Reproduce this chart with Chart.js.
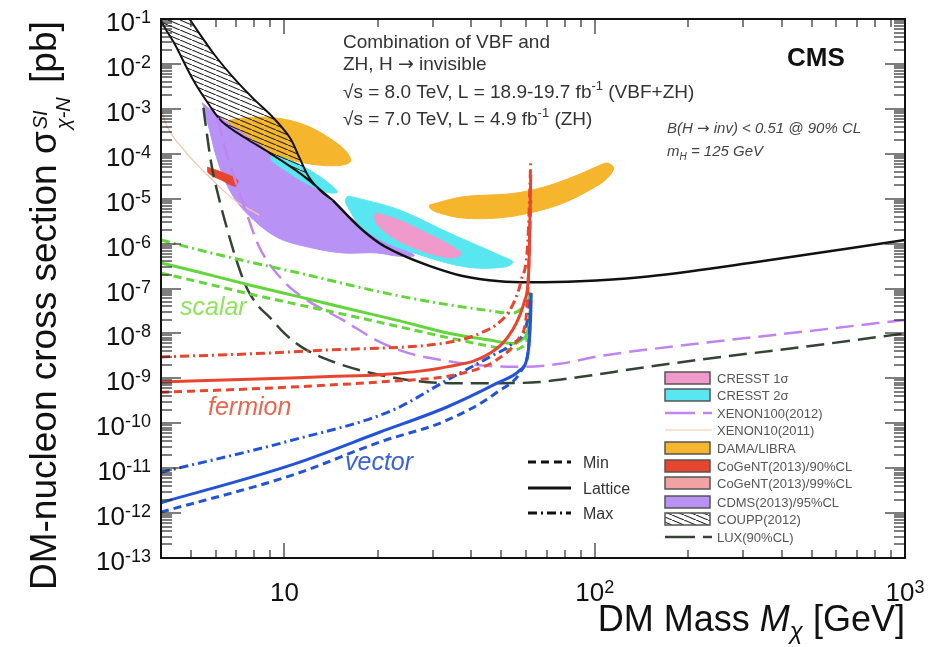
<!DOCTYPE html>
<html>
<head>
<meta charset="utf-8">
<script src="https://cdn.jsdelivr.net/npm/chart.js@4.4.1/dist/chart.umd.min.js"></script>
<style>
  html, body { margin: 0; padding: 0; background: #fff; }
</style>
</head>
<body>
<canvas id="myChart" width="939" height="647"></canvas>
<script>
// all points are [DM mass in GeV, cross section in pb]
var scalarMax = [[4, 1.2e-6], [5.32, 7.2e-7], [7.71, 3.9e-7], [11.2, 2.2e-7], [16.2, 1.2e-7], [23.5, 6.8e-8], [34.1, 4.3e-8], [45.9, 3.2e-8], [54, 2.8e-8], [58, 3.5e-8], [60.9, 5.2e-8], [62.2, 8.3e-8]];
var scalarLat = [[4, 3.7e-7], [5.32, 2.3e-7], [7.71, 1.2e-7], [11.2, 6.5e-8], [16.2, 3.5e-8], [23.5, 1.9e-8], [34.1, 1.0e-8], [45.9, 7.1e-9], [54, 6.0e-9], [58, 7.1e-9], [60.9, 1.2e-8], [62.2, 4.3e-8]];
var scalarMin = [[4, 2.2e-7], [5.32, 1.4e-7], [7.71, 7.6e-8], [11.2, 4.3e-8], [16.2, 2.5e-8], [23.5, 1.4e-8], [34.1, 7.9e-9], [45.9, 5.2e-9], [54, 4.3e-9], [58, 4.9e-9], [60.9, 8.7e-9], [62.2, 3.3e-8]];

var fermionMax = [[4, 3.0e-9], [7.71, 3.5e-9], [14, 4.3e-9], [23.5, 4.9e-9], [29.3, 5.5e-9], [36.7, 7.1e-9], [42.6, 1.0e-8], [49.4, 1.8e-8], [54.4, 4.3e-8], [58, 1.55e-7], [60.9, 1.2e-6], [62.2, 7.2e-5]];
var fermionLat = [[4, 8.3e-10], [7.71, 9.5e-10], [14, 1.1e-9], [20.25, 1.2e-9], [33.4, 1.8e-9], [45.9, 3.6e-9], [54.4, 1.2e-8], [59.5, 5.5e-8], [61.3, 2.6e-7], [62.2, 3.4e-5]];
var fermionMin = [[4, 4.9e-10], [7.71, 5.8e-10], [14, 7.1e-10], [20.25, 8.3e-10], [37.5, 1.3e-9], [48.4, 2.6e-9], [57.3, 8.3e-9], [60.4, 3.3e-8], [62.2, 9.3e-6]];

var vectorMax = [[4, 8.1e-12], [10.6, 4.2e-11], [22.3, 1.95e-10], [33.4, 9.1e-10], [45.9, 3.0e-9], [54.4, 6.0e-9], [60.4, 1.7e-8], [62.2, 9.1e-8]];
var vectorLat = [[4, 1.7e-12], [10.6, 1.2e-11], [20.25, 6.3e-11], [33.4, 2.3e-10], [48.4, 7.8e-10], [57.3, 1.5e-9], [60.9, 3.6e-9], [62.2, 2.8e-8], [62.4, 7.9e-8]];
var vectorMin = [[4, 1.05e-12], [10.6, 7.0e-12], [20.25, 3.8e-11], [33.4, 1.17e-10], [48.4, 4.9e-10], [58.6, 1.7e-9], [61.3, 5.5e-9], [62.2, 5.5e-8]];

var coupUpper = [[4.94, 1.0e-1], [5.95, 1.6e-2], [6.95, 4.4e-3], [8.0, 1.6e-3], [9.15, 6.6e-4], [10.4, 2.3e-4], [11.2, 7.9e-5], [12.0, 3.0e-5], [13.2, 1.4e-5], [14.3, 9.3e-6]];
var coupLower = [[4.0, 1.0e-1], [4.45, 2.6e-2], [5.08, 4.4e-3], [5.73, 1.2e-3], [6.31, 5.1e-4], [7.43, 2.3e-4], [8.95, 1.05e-4], [11.2, 3.7e-5], [14.3, 9.3e-6]];
var coupLimit = [[14.3, 9.3e-6], [17.45, 2.3e-6], [20.25, 1.02e-6], [23.5, 5.9e-7], [29.3, 3.2e-7], [37.5, 1.9e-7], [49.4, 1.45e-7], [61.7, 1.38e-7], [89.3, 1.45e-7], [140, 1.78e-7], [316, 3.7e-7], [1000, 1.2e-6]];

var lux = [[5.48, 1.05e-3], [5.6, 3.4e-4], [5.82, 5.6e-5], [6.17, 9.3e-6], [6.55, 2.0e-6], [7.0, 4.3e-7], [7.54, 1.07e-7], [8.18, 4.3e-8], [8.95, 2.3e-8], [10, 1.0e-8], [11.4, 4.9e-9], [14.7, 2.2e-9], [19.2, 1.3e-9], [25.3, 9.1e-10], [34.1, 7.8e-10], [49.4, 7.8e-10], [66.5, 8.3e-10], [89.3, 1.07e-9], [140, 1.7e-9], [218, 2.6e-9], [458, 4.9e-9], [1000, 1.0e-8]];
var xenon100 = [[6.08, 6.3e-4], [6.4, 1.55e-4], [6.9, 2.9e-5], [7.54, 4.8e-6], [8.3, 8.3e-7], [9.85, 1.55e-7], [11.4, 6.5e-8], [15.4, 2.0e-8], [20.25, 6.5e-9], [25.3, 3.6e-9], [31.6, 2.6e-9], [42.6, 1.95e-9], [57.3, 1.8e-9], [77.1, 2.1e-9], [103, 3.1e-9], [218, 6.0e-9], [458, 1.07e-8], [1000, 2.0e-8]];
var xenon10 = [[4.03, 8.5e-4], [4.16, 4.4e-4], [4.83, 1.05e-4], [5.86, 2.6e-5], [6.9, 9.3e-6], [8.3, 4.3e-6]];

// closed contours
var damaLow = [[6.26, 5.1e-4], [7.43, 6.3e-4], [9.29, 6.3e-4], [11.6, 4.4e-4], [14.0, 2.2e-4], [15.85, 1.1e-4], [16.3, 6.6e-5], [14.5, 5.4e-5], [11.6, 6.2e-5], [9.64, 8.9e-5], [8.0, 1.66e-4], [6.9, 3.0e-4]];
var damaHigh = [[29.3, 7.2e-6], [37.5, 1.1e-5], [54.4, 1.3e-5], [70.1, 1.9e-5], [89.3, 3.5e-5], [103, 5.4e-5], [110, 6.2e-5], [115, 4.8e-5], [110, 2.9e-5], [100, 1.8e-5], [78.9, 7.9e-6], [61.7, 4.8e-6], [48.4, 3.7e-6], [37.5, 3.7e-6], [31.6, 4.8e-6], [29.6, 5.9e-6]];
var cresst2Low = [[9.08, 9.3e-5], [10.4, 7.2e-5], [12.0, 4.4e-5], [13.8, 2.3e-5], [14.8, 1.4e-5], [13.6, 1.4e-5], [11.6, 2.3e-5], [10.0, 4.4e-5], [9.08, 7.2e-5]];
var cresst2High = [[16.0, 1.15e-5], [17.45, 1.0e-5], [23.5, 5.6e-6], [34.1, 1.7e-6], [49.4, 5.5e-7], [54.4, 3.9e-7], [51.3, 3.0e-7], [38.6, 3.0e-7], [26.7, 5.9e-7], [20.7, 1.15e-6], [17.45, 2.6e-6], [16.2, 5.6e-6], [15.7, 8.9e-6]];
var cresst1 = [[19.8, 4.8e-6], [23.5, 3.3e-6], [28.3, 1.8e-6], [34.1, 9.3e-7], [37.1, 5.9e-7], [34.1, 4.8e-7], [27.2, 7.2e-7], [22.6, 1.3e-6], [19.95, 2.6e-6], [19.5, 3.9e-6]];
var cdms = [[5.44, 1.35e-3], [5.95, 8.1e-4], [7.16, 3.2e-4], [8.95, 1.1e-4], [11.2, 3.7e-5], [14.0, 9.8e-6], [17.45, 2.7e-6], [21.8, 1.15e-6], [26.2, 5.5e-7], [23.5, 5.2e-7], [19.8, 6.2e-7], [15.4, 6.2e-7], [12.0, 8.3e-7], [9.42, 1.4e-6], [7.54, 4.8e-6], [6.65, 1.55e-5], [6.08, 7.2e-5], [5.73, 3.4e-4], [5.52, 9.3e-4]];
var cogent90 = [[5.65, 5.0e-5], [6.26, 3.9e-5], [7.06, 2.6e-5], [6.95, 1.9e-5], [6.26, 2.6e-5], [5.69, 3.7e-5]];

var xTickValues = [10, 100, 1000];
var xTickExp = ["", "2", "3"];
var yTickValues = [1e-13, 1e-12, 1e-11, 1e-10, 1e-9, 1e-8, 1e-7, 1e-6, 1e-5, 1e-4, 1e-3, 1e-2, 1e-1];
var yTickExp = ["-13", "-12", "-11", "-10", "-9", "-8", "-7", "-6", "-5", "-4", "-3", "-2", "-1"];

var legendLabels = ["CRESST 1\u03c3", "CRESST 2\u03c3", "XENON100(2012)", "XENON10(2011)", "DAMA/LIBRA", "CoGeNT(2013)/90%CL", "CoGeNT(2013)/99%CL", "CDMS(2013)/95%CL", "COUPP(2012)", "LUX(90%CL)"];

var FONT = '"Liberation Sans", Arial, Helvetica, sans-serif';
var GREEN = "#62d63a", RED = "#e8452f", BLUE = "#2353d8";
var DAMA = "#f5b52c", CYAN = "#58e7f1", PINK = "#f09acb", LILAC = "#b892f4";
var MIN_DASH = [8, 5], MAX_DASH = [9, 4, 2, 4];

function makeHatch() {
  var c = document.createElement("canvas");
  c.width = 12; c.height = 5;
  var g = c.getContext("2d");
  g.strokeStyle = "#222";
  g.lineWidth = 1.1;
  g.beginPath();
  g.moveTo(-1, -5 / 12);
  g.lineTo(13, 5 + 5 / 12);
  g.stroke();
  return g.createPattern(c, "repeat");
}
var hatch = makeHatch();

function pts(a) {
  return a.map(function (p) { return { x: p[0], y: p[1] }; });
}
function curve(a, color, width, dash) {
  return {
    data: pts(a), showLine: true, fill: false,
    borderColor: color, borderWidth: width, borderDash: dash || [],
    pointRadius: 0, cubicInterpolationMode: "monotone"
  };
}
function blob(a, color, border, bw) {
  return {
    data: pts(a.concat([a[0]])), showLine: true, fill: "shape",
    backgroundColor: color, borderColor: border || color, borderWidth: bw || 1,
    pointRadius: 0, tension: 0.35
  };
}

// first dataset is drawn on top
var datasets = [
  curve(fermionMax, RED, 3, MAX_DASH),
  curve(fermionLat, RED, 3),
  curve(fermionMin, RED, 3, MIN_DASH),
  curve(vectorMax, BLUE, 3, MAX_DASH),
  curve(vectorLat, BLUE, 3),
  curve(vectorMin, BLUE, 3, MIN_DASH),
  curve(scalarMax, GREEN, 3, MAX_DASH),
  curve(scalarLat, GREEN, 3),
  curve(scalarMin, GREEN, 3, MIN_DASH),
  curve(coupLimit, "#111", 2.5),
  curve(lux, "#334433", 2.5, [18, 8]),
  curve(xenon100, "#c084f2", 2.5, [18, 8]),
  curve(xenon10, "#f3c4aa", 1.2),
  blob(coupUpper.concat(coupLower.slice().reverse()), hatch, "#111", 2),
  blob(cogent90, RED),
  blob(cresst1, PINK),
  blob(cresst2Low, CYAN),
  blob(cresst2High, CYAN),
  blob(cdms, LILAC),
  blob(damaLow, DAMA),
  blob(damaHigh, DAMA)
];

function rich(ctx, x, y, parts, color) {
  ctx.fillStyle = color;
  ctx.textAlign = "left";
  ctx.textBaseline = "alphabetic";
  parts.forEach(function (p) {
    ctx.font = p[1];
    ctx.fillText(p[0], x, y + (p[2] || 0));
    x += ctx.measureText(p[0]).width;
  });
  return x;
}
function richWidth(ctx, parts) {
  var w = 0;
  parts.forEach(function (p) { ctx.font = p[1]; w += ctx.measureText(p[0]).width; });
  return w;
}

function drawFrame(chart) {
  var ctx = chart.ctx, a = chart.chartArea;
  var xs = chart.scales.x, ys = chart.scales.y;
  ctx.save();
  ctx.fillStyle = "#2a2a2a";
  // x ticks, bottom and top, pointing inwards
  [1, 10, 100].forEach(function (d) {
    for (var k = 1; k <= 9; k++) {
      var v = k * d;
      if (v < 4 || v > 1000) continue;
      var px = Math.round(xs.getPixelForValue(v));
      var len = k === 1 ? 15 : 8;
      ctx.fillRect(px - 0.6, a.bottom - len, 1.2, len);
      ctx.fillRect(px - 0.6, a.top, 1.2, len);
    }
  });
  // y ticks, left and right
  yTickValues.forEach(function (dec) {
    for (var m = 1; m <= 9; m++) {
      var val = dec * m;
      if (val > 0.1000001) continue;
      var yp = Math.round(ys.getPixelForValue(val));
      var ln = m === 1 ? 20 : 11;
      ctx.fillRect(a.left, yp - 0.6, ln, 1.2);
      ctx.fillRect(a.right - ln, yp - 0.6, ln, 1.2);
    }
  });
  ctx.setLineDash([]);
  ctx.lineWidth = 2;
  ctx.strokeStyle = "#111";
  ctx.strokeRect(a.left, a.top, a.right - a.left, a.bottom - a.top);
  ctx.restore();
}

var decor = {
  id: "decor",
  afterDraw: function (chart) {
    var ctx = chart.ctx, a = chart.chartArea;
    var xs = chart.scales.x, ys = chart.scales.y;
    drawFrame(chart);
    ctx.save();

    // y tick labels
    yTickValues.forEach(function (v, i) {
      var py = ys.getPixelForValue(v);
      ctx.font = "18px " + FONT;
      var ew = ctx.measureText(yTickExp[i]).width;
      ctx.font = "26px " + FONT;
      var bw = ctx.measureText("10").width;
      rich(ctx, 151 - ew - bw, py + 12, [["10", "26px " + FONT], [yTickExp[i], "18px " + FONT, -8]], "#111");
    });
    // x tick labels
    xTickValues.forEach(function (v, i) {
      var px = xs.getPixelForValue(v);
      var parts = [["10", "26px " + FONT], [xTickExp[i], "18px " + FONT, -8]];
      var w = richWidth(ctx, parts);
      rich(ctx, px - w / 2, 601, parts, "#111");
    });

    // axis titles
    var xt = [["DM Mass ", "36px " + FONT], ["M", "italic 36px " + FONT], ["\u03c7", "italic 24px " + FONT, 8], [" [GeV]", "36px " + FONT]];
    rich(ctx, a.right - richWidth(ctx, xt), 631, xt, "#111");

    ctx.save();
    ctx.translate(56, 590);
    ctx.rotate(-Math.PI / 2);
    var yx = rich(ctx, 0, 0, [["DM-nucleon cross section \u03c3", "37px " + FONT]], "#111");
    ctx.font = "italic 20px " + FONT;
    var w1 = ctx.measureText("SI").width, w2 = ctx.measureText("\u03c7-N").width;
    ctx.fillText("SI", yx + 2, -9);
    ctx.fillText("\u03c7-N", yx + 2, 14);
    rich(ctx, yx + Math.max(w1, w2) + 6, 0, [[" [pb]", "37px " + FONT]], "#111");
    ctx.restore();

    // header texts
    var f19 = "19px " + FONT, f12 = "13px " + FONT;
    var arrow = '19px "DejaVu Sans", sans-serif';
    rich(ctx, 343, 48, [["Combination of VBF and", f19]], "#333");
    rich(ctx, 343, 70, [["ZH, H ", f19], ["\u2192", arrow], [" invisible", f19]], "#333");
    rich(ctx, 343, 98, [["\u221as = 8.0 TeV, L = 18.9-19.7 fb", f19], ["-1", f12, -8], [" (VBF+ZH)", f19]], "#333");
    rich(ctx, 343, 125, [["\u221as = 7.0 TeV, L = 4.9 fb", f19], ["-1", f12, -8], [" (ZH)", f19]], "#333");
    rich(ctx, 787, 66, [["CMS", "bold 26px " + FONT]], "#111");
    var fi = "italic 15px " + FONT;
    rich(ctx, 667, 133, [["B(H ", fi], ["\u2192", '15px "DejaVu Sans", sans-serif'], [" inv) < 0.51 @ 90% CL", fi]], "#444");
    rich(ctx, 667, 156, [["m", fi], ["H", "italic 10px " + FONT, 4], [" = 125 GeV", fi]], "#444");

    // model labels
    rich(ctx, 180, 315, [["scalar", "italic 25px " + FONT]], "#8fe35e");
    rich(ctx, 208, 415, [["fermion", "italic 25px " + FONT]], "#ea6650");
    rich(ctx, 345, 470, [["vector", "italic 25px " + FONT]], "#3a5fe0");

    // line style key
    var keys = [["Min", MIN_DASH, 462], ["Lattice", [], 488], ["Max", MAX_DASH, 513]];
    keys.forEach(function (k) {
      ctx.save();
      ctx.strokeStyle = "#111"; ctx.lineWidth = 3; ctx.setLineDash(k[1]);
      ctx.beginPath(); ctx.moveTo(528, k[2]); ctx.lineTo(571, k[2]); ctx.stroke();
      ctx.restore();
      rich(ctx, 583, k[2] + 6, [[k[0], "16px " + FONT]], "#333");
    });

    // experiments legend
    var rows = [378, 395, 413, 430, 448, 466, 483, 502, 519, 537];
    var boxFill = [PINK, CYAN, null, null, DAMA, RED, "#f1a3a3", LILAC, hatch, null];
    legendLabels.forEach(function (lab, i) {
      var y = rows[i];
      ctx.save();
      if (boxFill[i]) {
        ctx.fillStyle = boxFill[i];
        ctx.fillRect(665, y - 6, 45, 12);
        ctx.strokeStyle = "#555"; ctx.lineWidth = 1.5;
        ctx.strokeRect(665, y - 6, 45, 12);
      } else {
        var col = i === 2 ? "#c084f2" : i === 3 ? "#f3c4aa" : "#334433";
        ctx.strokeStyle = col;
        ctx.lineWidth = i === 3 ? 1.2 : 2.5;
        ctx.setLineDash(i === 3 ? [] : [30, 8]);
        ctx.beginPath(); ctx.moveTo(665, y); ctx.lineTo(712, y); ctx.stroke();
      }
      ctx.restore();
      rich(ctx, 717, y + 5, [[lab, "13px " + FONT]], "#555");
    });

    ctx.restore();
  }
};

var ctx = document.getElementById("myChart").getContext("2d");
var myChart = new Chart(ctx, {
  type: "scatter",
  data: { datasets: datasets },
  options: {
    responsive: false,
    animation: false,
    events: [],
    layout: { padding: { left: 161, right: 34, top: 19, bottom: 89 } },
    plugins: {
      legend: { display: false },
      tooltip: { enabled: false }
    },
    scales: {
      x: { type: "logarithmic", min: 4, max: 1000, display: false },
      y: { type: "logarithmic", min: 1e-13, max: 1e-1, display: false }
    }
  },
  plugins: [decor]
});
</script>
</body>
</html>
